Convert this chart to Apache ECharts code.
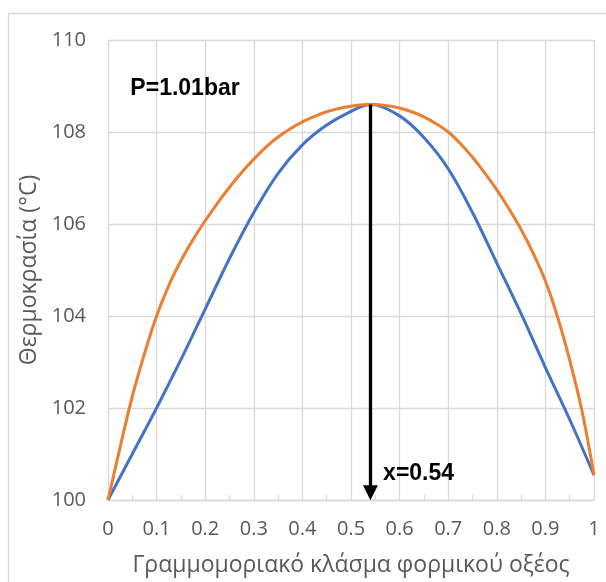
<!DOCTYPE html>
<html>
<head>
<meta charset="utf-8">
<script src="https://cdn.jsdelivr.net/npm/echarts@6/dist/echarts.min.js"></script>
<style>
  html, body { margin: 0; padding: 0; background: #fff; }
  #chart { width: 606px; height: 582px; }
</style>
</head>
<body>
<div id="chart"></div>
<script>
// Mole fraction of formic acid and bubble-point temperature (°C)
const xLiquid = [0, 0.05, 0.1, 0.15, 0.2, 0.25, 0.3, 0.35, 0.4, 0.45, 0.5, 0.54, 0.6, 0.65, 0.7, 0.75, 0.8, 0.85, 0.9, 0.95, 1];
const tLiquid = [100, 101.0, 102.0, 103.05, 104.15, 105.25, 106.25, 107.1, 107.72, 108.15, 108.45, 108.6, 108.35, 107.88, 107.2, 106.25, 105.15, 104.05, 102.88, 101.75, 100.54];

// Mole fraction of formic acid and dew-point temperature (°C)
const xVapour = [0, 0.025, 0.05, 0.075, 0.1, 0.125, 0.15, 0.175, 0.2, 0.225, 0.25, 0.275, 0.3, 0.325, 0.35, 0.375, 0.4, 0.425, 0.45, 0.475, 0.5,
                 0.525, 0.55, 0.575, 0.6, 0.625, 0.65, 0.675, 0.7, 0.725, 0.75, 0.775, 0.8, 0.825, 0.85, 0.875, 0.9, 0.925, 0.95, 0.975, 1];
const tVapour = [100, 101.15, 102.25, 103.18, 104.0, 104.66, 105.2, 105.66, 106.07, 106.45, 106.8, 107.12, 107.41, 107.67, 107.89, 108.07, 108.22, 108.34, 108.44, 108.51, 108.56,
                 108.59, 108.6, 108.57, 108.52, 108.44, 108.33, 108.18, 108.0, 107.75, 107.45, 107.11, 106.74, 106.33, 105.88, 105.36, 104.76, 103.98, 103.04, 101.95, 100.54];

// Azeotropic point
const azeoX = 0.54;
const azeoT = 108.6;

const xTicks = [0, 0.1, 0.2, 0.3, 0.4, 0.5, 0.6, 0.7, 0.8, 0.9, 1];
const yTicks = [100, 102, 104, 106, 108, 110];

const pressureLabel = 'P=1.01bar';
const xTitle = 'Γραμμομοριακό κλάσμα φορμικού οξέος';
const yTitle = 'Θερμοκρασία (°C)';

const pairs = (xs, ys) => xs.map((x, i) => [x, ys[i]]);

const chart = echarts.init(document.getElementById('chart'), null, { renderer: 'canvas' });
const font = "'Open Sans', 'Noto Sans', sans-serif";
const boldFont = "'Liberation Sans', Arial, sans-serif";
const grey = '#595959';
const gridGrey = '#d9d9d9';

// Annotation text anchored in data space, drawn left-aligned from the anchor
const note = (coord, text) => ({
  coord: coord,
  symbol: 'circle',
  symbolSize: 1,
  itemStyle: { color: 'rgba(0,0,0,0)' },
  label: {
    show: true, formatter: text, position: 'right', distance: 0,
    align: 'left', verticalAlign: 'middle',
    color: '#000', fontSize: 23, fontWeight: 'bold', fontFamily: boldFont
  }
});

chart.setOption({
  animation: false,
  backgroundColor: '#fff',
  grid: { left: 108, right: 12, top: 40, bottom: 82, containLabel: false },
  xAxis: {
    type: 'value',
    min: xTicks[0],
    max: xTicks[xTicks.length - 1],
    interval: 0.1,
    name: xTitle,
    nameLocation: 'middle',
    nameGap: 54,
    nameTextStyle: { color: grey, fontSize: 23, fontFamily: font },
    axisLine: { show: true, lineStyle: { color: gridGrey, width: 1.3 } },
    axisTick: { show: false, inside: true },
    minorTick: { show: true, splitNumber: 2, length: 5, lineStyle: { color: gridGrey, width: 1.3 } },
    splitLine: { show: true, lineStyle: { color: gridGrey, width: 1.3 } },
    axisLabel: {
      color: grey, fontSize: 20, fontFamily: font, margin: 19,
      formatter: v => String(Math.round(v * 10) / 10)
    }
  },
  yAxis: {
    type: 'value',
    min: yTicks[0],
    max: yTicks[yTicks.length - 1],
    interval: 2,
    name: yTitle,
    nameLocation: 'middle',
    nameGap: 59,
    nameTextStyle: { color: grey, fontSize: 23, fontFamily: font },
    axisLine: { show: false },
    axisTick: { show: false },
    splitLine: { show: true, lineStyle: { color: gridGrey, width: 1.3 } },
    axisLabel: { color: grey, fontSize: 20, fontFamily: font, margin: 22 }
  },
  graphic: [
    {
      type: 'rect', silent: true, z: -1,
      shape: { x: 8.5, y: 13.5, width: 640, height: 640 },
      style: { fill: 'none', stroke: gridGrey, lineWidth: 1.3 }
    }
  ],
  series: [
    {
      name: 'liquid',
      type: 'line',
      data: pairs(xLiquid, tLiquid),
      smooth: 0.35,
      showSymbol: false,
      lineStyle: { color: '#4472c4', width: 3 },
      z: 3
    },
    {
      name: 'vapour',
      type: 'line',
      data: pairs(xVapour, tVapour),
      smooth: 0.35,
      showSymbol: false,
      lineStyle: { color: '#ed7d31', width: 3 },
      z: 4,
      markLine: {
        silent: true,
        symbol: ['none', 'triangle'],
        symbolSize: [15, 15],
        lineStyle: { color: '#000', width: 3.3, type: 'solid', opacity: 1 },
        itemStyle: { color: '#000' },
        label: { show: false },
        data: [[{ coord: [azeoX, azeoT] }, { coord: [azeoX, yTicks[0] + 0.16] }]]
      },
      markPoint: {
        silent: true,
        data: [
          note([0.045, 108.95], pressureLabel),
          note([0.565, 100.58], 'x=' + azeoX)
        ]
      }
    }
  ]
});
</script>
</body>
</html>
